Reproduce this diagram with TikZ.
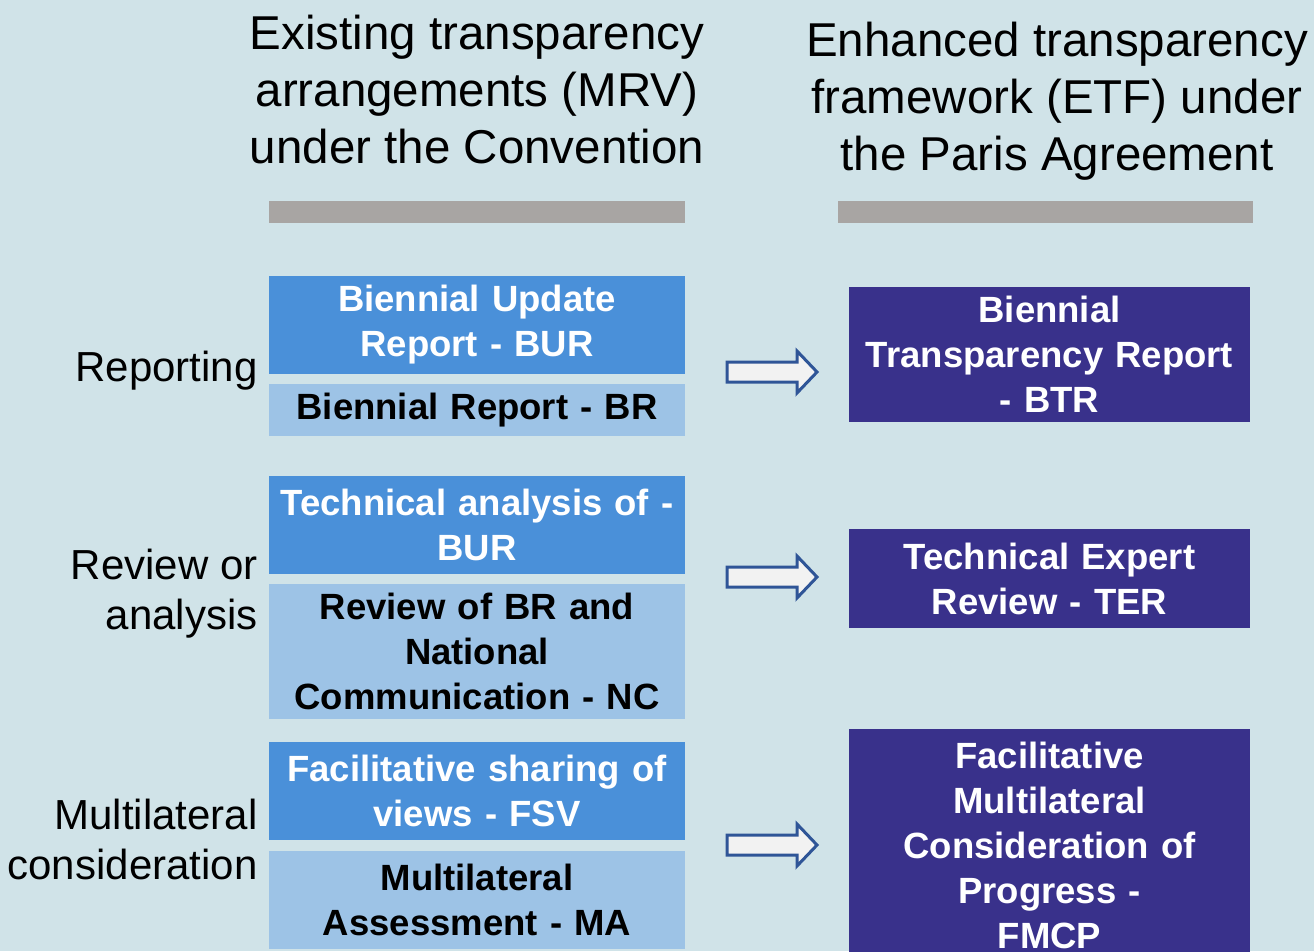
\documentclass[tikz,border=0pt]{standalone}
\usepackage{fontspec}
\setmainfont{Liberation Sans}
\definecolor{bgc}{RGB}{208,227,232}
\definecolor{barc}{RGB}{168,165,163}
\definecolor{darkc}{RGB}{74,144,217}
\definecolor{lightc}{RGB}{157,195,230}
\definecolor{navyc}{RGB}{57,49,139}
\definecolor{arrowline}{RGB}{47,85,151}
\definecolor{arrowfill}{RGB}{242,242,242}
\tikzset{
  mrvbox/.style={minimum width=416pt, text width=414pt, inner sep=0pt, align=center,
    font=\fontsize{36.5}{45}\selectfont\bfseries},
  darkbox/.style={mrvbox, fill=darkc, text=white},
  lightbox/.style={mrvbox, fill=lightc, text=black},
  etfbox/.style={minimum width=401pt, text width=399pt, inner sep=0pt, align=center,
    font=\fontsize{36.5}{45}\selectfont\bfseries, fill=navyc, text=white},
  header/.style={align=center, font=\fontsize{47.5}{57}\selectfont, text=black},
  rowlabel/.style={align=right, anchor=east, font=\fontsize{42}{50}\selectfont, text=black},
  bar/.style={fill=barc},
  blockarrow/.style={draw=arrowline, fill=arrowfill, line width=3pt, line join=miter}
}
\begin{document}
\begin{tikzpicture}[x=1pt,y=-1pt]
\useasboundingbox (0,0) rectangle (1314,951);
\clip (0,0) rectangle (1314,951);
\fill[bgc] (0,0) rectangle (1314,951);

% headers
\node[header] (hl) at (477,90) {Existing transparency\\arrangements (MRV)\\under the Convention};
\node[header] (hr) at (1057,101) {Enhanced transparency\\framework (ETF) under\\the Paris Agreement};
\fill[bar] (269,201) rectangle (685,223);
\fill[bar] (838,201) rectangle (1253,223);

% row labels
\node[rowlabel] (l1) at (261,371) {Reporting};
\node[rowlabel] (l2) at (261,594) {Review or\\analysis};
\node[rowlabel] (l3) at (261,839) {Multilateral\\consideration};

% left boxes
\node[darkbox, minimum height=98pt] (bur) at (477,325) {Biennial Update\\Report - BUR};
\node[lightbox, minimum height=52pt] (br) at (477,410) {Biennial Report - BR};
\node[darkbox, minimum height=98pt] (ta) at (477,525) {Technical analysis of -\\BUR};
\node[lightbox, minimum height=135pt] (rv) at (477,651.5) {Review of BR and\\National\\Communication - NC};
\node[darkbox, minimum height=98pt] (fsv) at (477,791) {Facilitative sharing of\\views - FSV};
\node[lightbox, minimum height=98pt] (ma) at (477,900) {Multilateral\\Assessment - MA};

% right boxes
\node[etfbox, minimum height=135pt] (btr) at (1049.5,354) {Biennial\\Transparency Report\\- BTR};
\node[etfbox, minimum height=99pt] (ter) at (1049.5,578.5) {Technical Expert\\Review - TER};
\node[etfbox, minimum height=232pt] (fmcp) at (1049.5,845) {Facilitative\\Multilateral\\Consideration of\\Progress -\\FMCP};

% block arrows
\foreach \n/\yy in {a1/372, a2/577, a3/845}{
  \coordinate (\n) at (727,\yy);
  \draw[blockarrow] (\n) ++(0,-10) -- ++(70,0) -- ++(0,-11) -- ++(20,21)
     -- ++(-20,21) -- ++(0,-11) -- ++(-70,0) -- cycle;
}
\end{tikzpicture}
\end{document}
